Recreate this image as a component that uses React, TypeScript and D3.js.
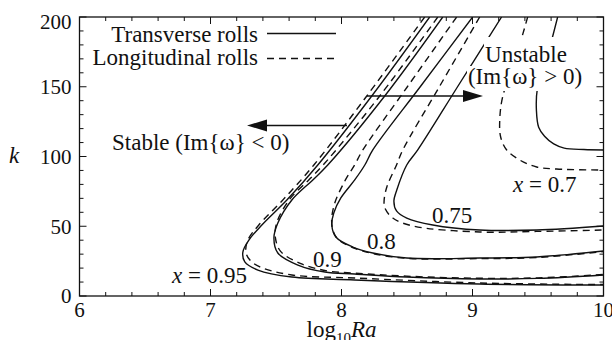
import * as d3 from "d3";

// contour data: [log10 Ra, k]
const xTicks = [6, 7, 8, 9, 10];
const yTicks = [0, 50, 100, 150, 200];

const transverse95 = [[8.673, 200], [8.231, 143.4], [7.819, 93.9], [7.583, 68.8], [7.392, 50.9], [7.293, 40.1], [7.247, 31.5], [7.262, 24.4], [7.362, 18.6], [7.621, 13.6], [8.101, 11.5], [9.055, 8.6], [10, 7.9]];
const longitudinal95 = [[8.635, 200], [8.193, 143.4], [7.789, 93.9], [7.552, 68.8], [7.369, 50.9], [7.285, 40.1], [7.27, 31.5], [7.301, 25.8], [7.377, 20.8], [7.621, 15.1], [8.101, 12.9], [9.055, 9.3], [10, 8.2]];
const transverse90 = [[8.773, 200], [8.33, 143.4], [7.895, 93.9], [7.781, 83.2], [7.621, 68.8], [7.514, 52.3], [7.484, 41.6], [7.514, 30.8], [7.667, 22.2], [7.873, 17.2], [8.101, 15.8], [8.498, 13.6], [9.055, 12.2], [9.5, 12.6], [10, 15.1]];
const longitudinal90 = [[8.735, 200], [8.292, 143.4], [7.86, 93.9], [7.75, 83.2], [7.6, 68.8], [7.505, 52.3], [7.495, 42], [7.535, 32], [7.69, 23.2], [7.89, 18], [8.1, 16.4], [8.5, 14.2], [9.05, 12.7], [9.5, 13], [10, 15.4]];
const transverse80 = [[9.001, 200], [8.601, 150], [8.239, 104.7], [8.178, 93.9], [8.101, 83.2], [7.995, 70.3], [7.941, 59.5], [7.926, 50.9], [7.957, 42.3], [8.086, 35.1], [8.239, 30.8], [8.498, 27.2], [9.055, 27.2], [9.49, 28], [10, 32.3]];
const longitudinal80 = [[8.879, 200], [8.503, 150], [8.163, 104.7], [8.1, 93.9], [8.03, 83.2], [7.95, 67], [7.925, 55], [7.935, 47], [7.975, 40.5], [8.09, 34.6], [8.24, 30.4], [8.5, 27], [9.055, 26.8], [9.49, 27.6], [10, 31.8]];
const transverse75 = [[9.222, 200], [8.886, 150], [8.582, 104.7], [8.498, 93.9], [8.422, 76], [8.4, 68], [8.42, 61], [8.498, 55.9], [8.697, 50.9], [9.055, 47.3], [9.49, 47.3], [10, 50.2]];
const longitudinal75 = [[9.055, 200], [8.747, 150], [8.468, 104.7], [8.42, 93.9], [8.346, 78.1], [8.325, 68], [8.331, 63.1], [8.391, 55.9], [8.544, 50.2], [9.055, 45.9], [9.49, 46.3], [10, 47.3]];
const transverse70 = [[9.65, 200], [9.574, 172.8], [9.494, 147.7], [9.488, 133], [9.505, 121], [9.55, 114.5], [9.62, 109], [9.7, 106], [9.85, 105], [10, 104.7]];
const longitudinal70 = [[9.421, 200], [9.337, 172.8], [9.23, 142.7], [9.208, 126.2], [9.215, 114], [9.261, 104.7], [9.36, 97.5], [9.49, 92.5], [9.642, 91], [10, 90.3]];

const transverseCurves = [transverse95, transverse90, transverse80, transverse75, transverse70];
const longitudinalCurves = [longitudinal95, longitudinal90, longitudinal80, longitudinal75, longitudinal70];

const W = 612;
const H = 340;
const FONT = '"Liberation Serif", "DejaVu Serif", Tinos, "Times New Roman", Times, serif';
const INK = "#111";

export default function App() {
  const x = d3.scaleLinear().domain([6, 10]).range([79.5, 603.5]);
  const y = d3.scaleLinear().domain([0, 200]).range([296, 17]);
  const [x0, x1] = x.range();
  const [y0, y1] = y.range();

  const line = d3
    .line<number[]>()
    .x((d) => x(d[0]))
    .y((d) => y(d[1]))
    .curve(d3.curveCatmullRom.alpha(0.5));

  const xMinor = d3.range(6, 10.001, 0.2);
  const yMinor = d3.range(0, 200.001, 10);

  return (
    <svg
      width={W}
      height={H}
      style={{ position: "fixed", left: 0, top: 0, background: "#fff", fontFamily: FONT }}
    >
      <defs>
        <clipPath id="plot">
          <rect x={x0} y={y1} width={x1 - x0} height={y0 - y1} />
        </clipPath>
      </defs>

      <g clipPath="url(#plot)" fill="none" stroke={INK} strokeWidth={1.4}>
        {transverseCurves.map((c, i) => (
          <path key={"t" + i} d={line(c) ?? ""} />
        ))}
        {longitudinalCurves.map((c, i) => (
          <path key={"l" + i} d={line(c) ?? ""} strokeDasharray="7,5" />
        ))}
      </g>

      {/* ticks, all four sides, pointing in */}
      <g stroke={INK} strokeWidth={1}>
        {xMinor.map((v, i) => {
          const len = Math.abs(v - Math.round(v)) < 1e-6 ? 7 : 4;
          return (
            <g key={"xt" + i}>
              <line x1={x(v)} x2={x(v)} y1={y0} y2={y0 - len} />
              <line x1={x(v)} x2={x(v)} y1={y1} y2={y1 + len} />
            </g>
          );
        })}
        {yMinor.map((v, i) => {
          const len = v % 50 === 0 ? 7 : 4;
          return (
            <g key={"yt" + i}>
              <line x1={x0} x2={x0 + len} y1={y(v)} y2={y(v)} />
              <line x1={x1} x2={x1 - len} y1={y(v)} y2={y(v)} />
            </g>
          );
        })}
      </g>
      <rect x={x0} y={y1} width={x1 - x0} height={y0 - y1} fill="none" stroke={INK} strokeWidth={1.3} />

      {/* tick labels */}
      <g fontSize={21} fill={INK}>
        {xTicks.map((v) => (
          <text key={"xl" + v} x={x(v)} y={317} textAnchor="middle">
            {v}
          </text>
        ))}
        {yTicks.map((v) => (
          <text key={"yl" + v} x={x0 - 8} y={Math.max(y(v), 22)} dy="0.35em" textAnchor="end">
            {v}
          </text>
        ))}
      </g>

      {/* axis titles */}
      <text x={(x0 + x1) / 2} y={337} textAnchor="middle" fontSize={23} fill={INK}>
        <tspan>log</tspan>
        <tspan fontSize={15} dy={6}>10</tspan>
        <tspan dy={-6} fontStyle="italic">Ra</tspan>
      </text>
      <text x={14} y={163} textAnchor="middle" fontSize={23} fontStyle="italic" fill={INK}>
        k
      </text>

      {/* legend */}
      <g fontSize={23} fill={INK}>
        <text x={258} y={42} textAnchor="end">Transverse rolls</text>
        <text x={258} y={65} textAnchor="end">Longitudinal rolls</text>
      </g>
      <line x1={267} x2={336} y1={33.5} y2={33.5} stroke={INK} strokeWidth={1.4} />
      <line x1={267} x2={338} y1={58.5} y2={58.5} stroke={INK} strokeWidth={1.4} strokeDasharray="7,5" />

      {/* stability annotations */}
      <rect x={484} y={37} width={86} height={29} fill="#fff" />
      <rect x={467} y={66} width={118} height={25} fill="#fff" />
      <g fontSize={23} fill={INK}>
        <text x={112} y={150}>Stable (Im{"{"}ω{"}"} &lt; 0)</text>
        <text x={526} y={62} textAnchor="middle">Unstable</text>
        <text x={525} y={84} textAnchor="middle">(Im{"{"}ω{"}"} &gt; 0)</text>
      </g>
      <g stroke={INK} strokeWidth={1.3} fill={INK}>
        <line x1={347} x2={262} y1={125.5} y2={125.5} />
        <path d="M247,125.5 L267,119.5 L267,131.5 Z" stroke="none" />
        <line x1={367} x2={468} y1={96} y2={96} />
        <path d="M483,96 L463,90 L463,102 Z" stroke="none" />
      </g>

      {/* contour labels */}
      <g fontSize={23} fill={INK}>
        <text x={172} y={283}>
          <tspan fontStyle="italic">x</tspan> = 0.95
        </text>
        <text x={313} y={267}>0.9</text>
        <text x={367} y={249}>0.8</text>
        <text x={432} y={223}>0.75</text>
        <text x={513} y={192}>
          <tspan fontStyle="italic">x</tspan> = 0.7
        </text>
      </g>
    </svg>
  );
}
